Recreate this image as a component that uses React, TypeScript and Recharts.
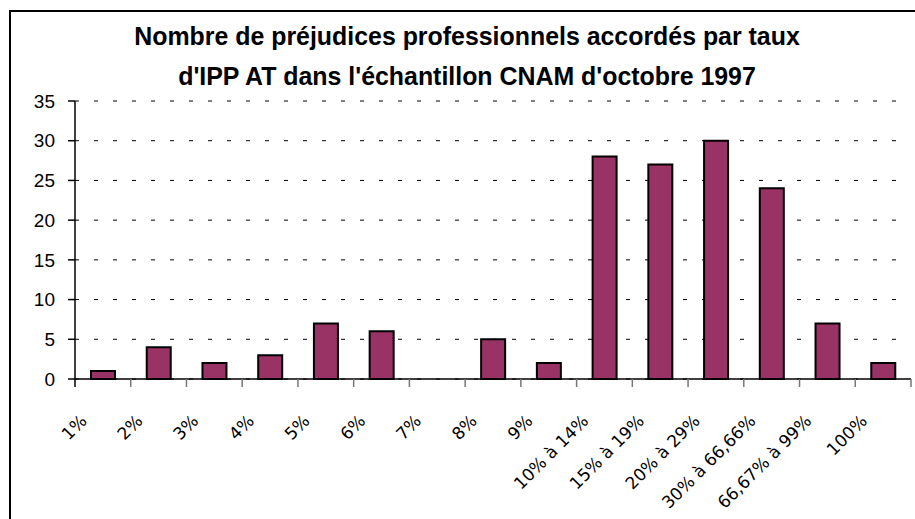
import React from 'react';
import { BarChart, Bar, XAxis, YAxis, CartesianGrid } from 'recharts';

const categories = [
  '1%', '2%', '3%', '4%', '5%', '6%', '7%', '8%', '9%',
  '10% à 14%', '15% à 19%', '20% à 29%', '30% à 66,66%', '66,67% à 99%', '100%',
];
const counts = [1, 4, 2, 3, 7, 6, 0, 5, 2, 28, 27, 30, 24, 7, 2];
const yTicks = [0, 5, 10, 15, 20, 25, 30, 35];
const titleLines = [
  'Nombre de préjudices professionnels accordés par taux',
  "d'IPP AT dans l'échantillon CNAM d'octobre 1997",
];

const W = 915;
const H = 519;
const PLOT_LEFT = 75;
const PLOT_RIGHT = 911;
const PLOT_TOP = 101;
const PLOT_BOTTOM = 379;
const Y_AXIS_W = 60;
const X_AXIS_H = 130;
const band = (PLOT_RIGHT - PLOT_LEFT) / categories.length;

const data = categories.map((cat, i) => ({ cat, value: counts[i] }));

function XTick(props: any) {
  const { x, y, payload, index } = props;
  const left = x - band / 2;
  const last = index === categories.length - 1;
  const tx = x - 15;
  const ty = y + 43;
  return (
    <g>
      <line x1={left} y1={y} x2={left} y2={y + 8} stroke={index === 0 ? '#000' : '#777'} strokeWidth={1.5} />
      {last && <line x1={x + band / 2} y1={y} x2={x + band / 2} y2={y + 8} stroke="#777" strokeWidth={1.5} />}
      <text
        x={tx}
        y={ty}
        textAnchor="end"
        transform={`rotate(-45, ${tx}, ${ty})`}
        fontFamily="'DejaVu Sans', sans-serif"
        fontSize={17}
        fill="#000"
      >
        {payload.value}
      </text>
    </g>
  );
}

export default function App() {
  return (
    <div style={{ position: 'absolute', left: 0, top: 0, width: W, height: H, overflow: 'hidden', background: '#fff' }}>
      <BarChart
        width={W}
        height={H}
        data={data}
        barCategoryGap={0}
        margin={{
          top: PLOT_TOP,
          right: W - PLOT_RIGHT,
          bottom: H - PLOT_BOTTOM - X_AXIS_H,
          left: PLOT_LEFT - Y_AXIS_W,
        }}
      >
        <CartesianGrid vertical={false} stroke="#000" strokeDasharray="4 15" />
        <XAxis
          dataKey="cat"
          height={X_AXIS_H}
          interval={0}
          axisLine={{ stroke: '#000', strokeWidth: 1.5 }}
          tickLine={false}
          tickSize={0}
          tickMargin={0}
          tick={<XTick />}
        />
        <YAxis
          width={Y_AXIS_W}
          domain={[0, 35]}
          ticks={yTicks}
          interval={0}
          axisLine={{ stroke: '#000', strokeWidth: 1.5 }}
          tickLine={{ stroke: '#000', strokeWidth: 1.5 }}
          tickSize={7}
          tickMargin={13}
          tick={{ fontFamily: "'Liberation Sans', Arial, sans-serif", fontSize: 19, fill: '#000' }}
        />
        <Bar dataKey="value" fill="#993366" stroke="#000" strokeWidth={2} barSize={24} isAnimationActive={false} />
      </BarChart>
      <svg width={W} height={H} style={{ position: 'absolute', left: 0, top: 0, pointerEvents: 'none' }}>
        <rect x={10} y={11} width={1000} height={1000} fill="none" stroke="#000" strokeWidth={2} />
        {titleLines.map((t, i) => (
          <text
            key={i}
            transform={`translate(467, ${45 + i * 40}) scale(0.94, 1)`}
            textAnchor="middle"
            fontFamily="'Liberation Sans', Arial, sans-serif"
            fontWeight="bold"
            fontSize={26.5}
            fill="#000"
          >
            {t}
          </text>
        ))}
      </svg>
    </div>
  );
}
